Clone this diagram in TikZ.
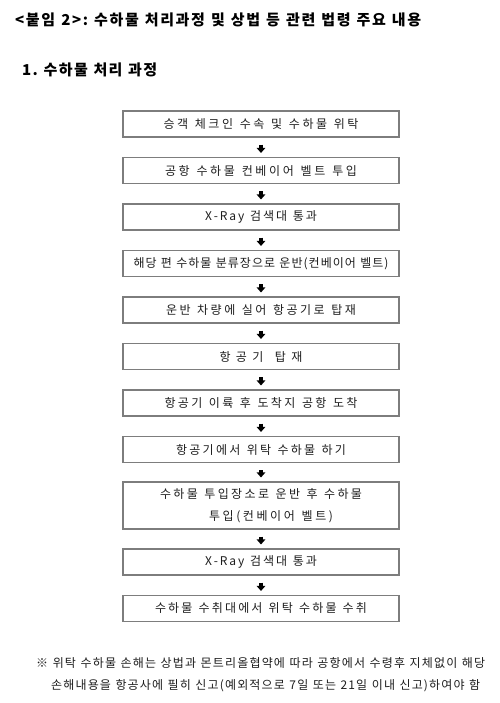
\documentclass[tikz,border=0pt]{standalone}
\usepackage{fontspec}
\newfontfamily\kr{Noto Sans CJK KR}
\usetikzlibrary{arrows.meta}
\definecolor{boxgray}{RGB}{125,125,125}
\definecolor{txt}{RGB}{30,30,30}
\ExplSyntaxOn
\seq_new:N \l__my_words_seq
\bool_new:N \l__my_first_bool
\bool_new:N \l__my_firstch_bool
\cs_new_protected:Npn \my_spread:nn #1 #2
  {
    \seq_set_split:Nnn \l__my_words_seq { ~ } { #2 }
    \makebox [ #1 ] [ s ]
      {
        \bool_set_true:N \l__my_first_bool
        \seq_map_inline:Nn \l__my_words_seq
          {
            \bool_if:NF \l__my_first_bool { \hskip \fontdimen2\font plus 1.6fil \relax }
            \bool_set_false:N \l__my_first_bool
            \bool_set_true:N \l__my_firstch_bool
            \tl_map_inline:nn { ##1 }
              {
                \bool_if:NF \l__my_firstch_bool { \hskip 0pt plus 1fil \relax }
                \bool_set_false:N \l__my_firstch_bool
                ####1
              }
          }
      }
  }
\NewDocumentCommand \spread { m m } { \my_spread:nn {#1} {#2} }
\ExplSyntaxOff
\begin{document}
\begin{tikzpicture}[x=1pt,y=-1pt,
  stepbox/.style={draw=boxgray, line width=1.1pt, minimum width=276pt, minimum height=26pt,
    inner sep=0pt, align=center, text=txt, font=\kr\fontsize{12}{22}\selectfont},
  flow/.style={line width=3.8pt, -{Triangle[width=8.5pt,length=5pt]}, shorten <=7pt, shorten >=4pt},
  head/.style={anchor=west, inner sep=0pt, font=\kr\bfseries\fontsize{15}{17}\selectfont},
  note/.style={anchor=west, inner sep=0pt, text=txt, font=\kr\fontsize{12}{14}\selectfont}]
\useasboundingbox (0,0) rectangle (499,703);
\fill[white] (0,0) rectangle (499,703);
\node[head] (title) at (15,20) {\spread{406pt}{<붙임 2>: 수하물 처리과정 및 상법 등 관련 법령 주요 내용}};
\node[head] (sub) at (22,70) {\spread{135pt}{1. 수하물 처리 과정}};
\node[stepbox] (b1) at (261,124) {\spread{195pt}{승객 체크인 수속 및 수하물 위탁}};
\node[stepbox] (b2) at (261,170.5) {\spread{192pt}{공항 수하물 컨베이어 벨트 투입}};
\node[stepbox] (b3) at (261,217) {\spread{112pt}{X-Ray 검색대 통과}};
\node[stepbox] (b4) at (261,263.5) {\spread{255pt}{해당 편 수하물 분류장으로 운반(컨베이어 벨트)}};
\node[stepbox] (b5) at (261,310) {\spread{190pt}{운반 차량에 실어 항공기로 탑재}};
\node[stepbox] (b6) at (261,356.5) {\spread{83pt}{항공기 탑재}};
\node[stepbox] (b7) at (261,403) {\spread{193pt}{항공기 이륙 후 도착지 공항 도착}};
\node[stepbox] (b8) at (261,449.5) {\spread{170pt}{항공기에서 위탁 수하물 하기}};
\node[stepbox, minimum height=47pt] (b9) at (261,505.5) {\spread{202pt}{수하물 투입장소로 운반 후 수하물}\\\hspace*{20pt}\spread{124pt}{투입(컨베이어 벨트)}};
\node[stepbox] (b10) at (261,562) {\spread{112pt}{X-Ray 검색대 통과}};
\node[stepbox] (b11) at (261,608.5) {\spread{212pt}{수하물 수취대에서 위탁 수하물 수취}};
\foreach \a/\b in {b1/b2,b2/b3,b3/b4,b4/b5,b5/b6,b6/b7,b7/b8,b8/b9,b9/b10,b10/b11}
  \draw[flow] (\a) -- (\b);
\node[note] (n1) at (36,663) {\spread{449pt}{※ 위탁 수하물 손해는 상법과 몬트리올협약에 따라 공항에서 수령후 지체없이 해당}};
\node[note] (n2) at (51,686) {\spread{429pt}{손해내용을 항공사에 필히 신고(예외적으로 7일 또는 21일 이내 신고)하여야 함}};
\end{tikzpicture}
\end{document}
